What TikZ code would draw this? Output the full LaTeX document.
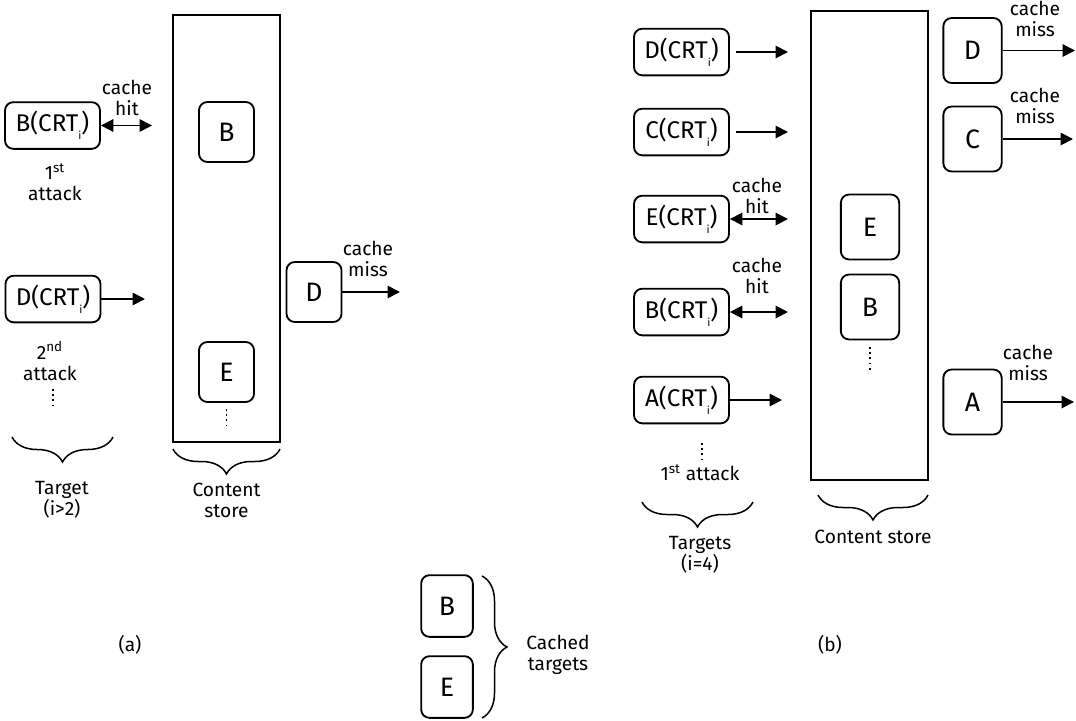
\documentclass[tikz,border=0pt]{standalone}
\usepackage{fontspec}
\setmainfont{Fira Sans}
\usetikzlibrary{arrows.meta, positioning, calc, decorations.pathreplacing}

\newcommand{\crt}[1]{#1(CRT\raisebox{-0.6ex}{\fontsize{6.5}{6.5}\selectfont i})}

\begin{document}
\begin{tikzpicture}[x=0.6pt, y=-0.6pt, line width=1.1pt, >={Triangle[length=7.5pt, width=7.5pt]}]
    \tikzset{
		target/.style={draw, rectangle, rounded corners=5pt, minimum width=57pt, minimum height=28pt, inner sep=1pt, font=\fontsize{14.5}{16}\selectfont},
		item/.style={draw, rectangle, rounded corners=5pt, minimum width=33pt, minimum height=36pt, font=\fontsize{16}{18}\selectfont},
		bigitem/.style={item, minimum width=35pt, minimum height=39pt},
		store/.style={draw, rectangle, inner sep=0pt},
		lbl/.style={align=center, inner sep=0pt, font=\fontsize{11.5}{12.6}\selectfont},
		vdots/.style={dotted, line width=1.1pt},
		brace/.style={decorate, line width=0.9pt, decoration={brace, mirror, amplitude=#1}},
		brace/.default=15pt
	}
	\useasboundingbox (0,0) rectangle (1076,720);

	% --- (a): ataque con i>2 ---
	\node [store, minimum width=64.2pt, minimum height=256.2pt] (storeA) at (226.5,228.5) {};
	\node [item] (sB) at (226.5,132) {B};
	\node [item] (sE) at (226.5,372) {E};
	\draw [vdots] (226.5,409) -- (226.5,427);

	\node [target] (tB) at (52.5,125.5) {\crt{B}};
	\coordinate (hitB) at (152,125.5);
	\draw [<->] (tB.east) -- (hitB);
	\node [lbl] (hitBl) at (127,98) {cache\\hit};
	\node [lbl] (att1) at (55,182) {1\textsuperscript{st}\\attack};

	\node [target] (tD) at (53,299) {\crt{D}};
	\coordinate (inD) at (145,299);
	\draw [->] (tD.east) -- (inD);
	\node [lbl] (att2) at (50,361) {2\textsuperscript{nd}\\attack};
	\draw [vdots] (53,389) -- (53,407);

	\node [item] (oD) at (314,292) {D};
	\coordinate (outD) at (400,292);
	\draw [->] (oD.east) -- (outD);
	\node [lbl] (missD) at (368,259) {cache\\miss};

	% llaves de (a)
	\draw [brace] (12,437) -- (113,437);
	\node [lbl] (tgtA) at (62,500) {Target\\(i>2)};
	\draw [brace] (173,449) -- (280,449);
	\node [lbl] (csA) at (226.5,500) {Content\\store};
	\node [lbl] (capA) at (130,645) {(a)};

	% --- (b): ataque con i=4 ---
	\node [store, minimum width=70.2pt, minimum height=281.4pt] (storeB) at (869.5,245.5) {};
	\node [bigitem] (sE2) at (870,227) {E};
	\node [bigitem] (sB2) at (870,307) {B};
	\draw [vdots] (870,347) -- (870,370);

	\node [target] (tD2) at (681.5,52) {\crt{D}};
	\node [target] (tC2) at (681.5,132) {\crt{C}};
	\node [target] (tE2) at (681.5,219) {\crt{E}};
	\node [target] (tB2) at (681.5,312) {\crt{B}};
	\node [target] (tA2) at (681.5,400) {\crt{A}};

	\coordinate (inD2) at (788,52);
	\coordinate (inC2) at (788,132);
	\coordinate (hitE2) at (788,219);
	\coordinate (hitB2) at (788,312);
	\coordinate (inA2) at (782,400);
	\draw [->, shorten <=3.5pt] (tD2.east) -- (inD2);
	\draw [->, shorten <=3.5pt] (tC2.east) -- (inC2);
	\draw [<->] (tE2.east) -- (hitE2);
	\draw [<->] (tB2.east) -- (hitB2);
	\draw [->] (tA2.east) -- (inA2);
	\node [lbl] (hitEl) at (757,196) {cache\\hit};
	\node [lbl] (hitBl2) at (757,276) {cache\\hit};

	\draw [vdots] (702,443) -- (702,462);
	\node [lbl] (att1b) at (700,473) {1\textsuperscript{st} attack};

	% salidas (cache miss)
	\node [bigitem] (oD2) at (972.5,50.5) {D};
	\node [bigitem] (oC2) at (972.5,139) {C};
	\node [bigitem] (oA2) at (972.5,402) {A};
	\coordinate (outD2) at (1075,50.5);
	\coordinate (outC2) at (1073,139);
	\coordinate (outA2) at (1074,402);
	\draw [->] (oD2.east) -- (outD2);
	\draw [->] (oC2.east) -- (outC2);
	\draw [->] (oA2.east) -- (outA2);
	\node [lbl] (missD2) at (1035,19) {cache\\miss};
	\node [lbl] (missC2) at (1035,106) {cache\\miss};
	\node [lbl] (missA2) at (1028,363) {cache\\miss};

	% llaves de (b)
	\draw [brace] (642,502) -- (753,502);
	\node [lbl] (tgtB) at (700,555) {Targets\\(i=4)};
	\draw [brace] (818,495) -- (928,495);
	\node [lbl] (csB) at (873,537) {Content store};
	\node [lbl] (capB) at (830,645) {(b)};

	% --- Objetivos en cache ---
	\node [item, minimum width=31pt, minimum height=37pt] (cB) at (447,606) {B};
	\node [item, minimum width=31pt, minimum height=37pt] (cE) at (447,687) {E};
	\draw [decorate, line width=0.9pt, decoration={brace, amplitude=15pt}] (482,576) -- (482,718);
	\node [lbl] (cached) at (558,655) {Cached\\targets};
\end{tikzpicture}
\end{document}
